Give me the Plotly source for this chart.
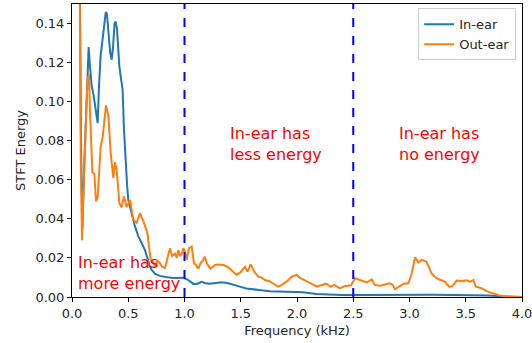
import plotly.graph_objects as go

in_x = [0.062, 0.07, 0.08, 0.092, 0.11, 0.13, 0.148, 0.16, 0.175, 0.19, 0.205, 0.218, 0.228, 0.24,
        0.255, 0.27, 0.285, 0.30, 0.31, 0.325, 0.34, 0.353, 0.365, 0.378, 0.388, 0.40, 0.41, 0.421,
        0.435, 0.45, 0.462, 0.475, 0.49, 0.50, 0.52, 0.545, 0.56, 0.59, 0.62, 0.649, 0.67, 0.69,
        0.708, 0.74, 0.78, 0.81, 0.85, 0.90, 0.95, 0.99, 1.03, 1.05, 1.08, 1.11, 1.15, 1.18, 1.22,
        1.28, 1.33, 1.38, 1.43, 1.5, 1.55, 1.62, 1.7, 1.76, 1.85, 1.95, 2.05, 2.175, 2.3, 2.4, 2.6,
        2.8, 3.0, 3.2, 3.4, 3.6, 3.7, 3.8, 3.9, 4.0]
in_y = [0.40, 0.16, 0.08, 0.035, 0.07, 0.105, 0.128, 0.118, 0.108, 0.104, 0.097, 0.091, 0.089, 0.108,
        0.124, 0.131, 0.138, 0.1458, 0.145, 0.133, 0.125, 0.1215, 0.128, 0.140, 0.141, 0.137, 0.125, 0.118,
        0.112, 0.106, 0.0856, 0.070, 0.057, 0.0497, 0.045, 0.038, 0.036, 0.031, 0.027, 0.024, 0.020, 0.016,
        0.0138, 0.0118, 0.0108, 0.0104, 0.0101, 0.0097, 0.0098, 0.0099, 0.0088, 0.0079, 0.0067, 0.0067,
        0.0078, 0.0072, 0.0068, 0.0072, 0.0075, 0.0072, 0.0062, 0.0052, 0.0044, 0.0038, 0.0033, 0.0030,
        0.0028, 0.0026, 0.0024, 0.0015, 0.0012, 0.0010, 0.0010, 0.0011, 0.0012, 0.0011, 0.0010, 0.0009,
        0.0008, 0.0004, 0.0001, 0.0]

out_x = [0.062, 0.068, 0.078, 0.089, 0.10, 0.115, 0.13, 0.14, 0.151, 0.16, 0.172, 0.181, 0.199, 0.213,
         0.228, 0.242, 0.255, 0.273, 0.29, 0.302, 0.323, 0.344, 0.367, 0.382, 0.397, 0.421, 0.44, 0.462,
         0.486, 0.516, 0.545, 0.575, 0.604, 0.634, 0.67, 0.699, 0.738, 0.76, 0.782, 0.80, 0.827, 0.85,
         0.871, 0.89, 0.916, 0.93, 0.945, 0.96, 0.975, 0.99, 1.005, 1.02, 1.04, 1.064, 1.084, 1.10,
         1.123, 1.14, 1.167, 1.18, 1.20, 1.23, 1.271, 1.30, 1.345, 1.38, 1.404, 1.44, 1.464, 1.50,
         1.538, 1.56, 1.588, 1.62, 1.656, 1.69, 1.715, 1.75, 1.79, 1.833, 1.87, 1.91, 1.953, 1.997,
         2.03, 2.07, 2.10, 2.14, 2.175, 2.22, 2.26, 2.3, 2.33, 2.382, 2.42, 2.45, 2.48, 2.516, 2.55,
         2.58, 2.62, 2.664, 2.69, 2.74, 2.79, 2.82, 2.85, 2.871, 2.91, 2.95, 2.99, 3.02, 3.049, 3.08,
         3.108, 3.15, 3.197, 3.24, 3.27, 3.316, 3.35, 3.38, 3.42, 3.47, 3.51, 3.54, 3.567, 3.59, 3.64,
         3.686, 3.74, 3.8, 3.86, 3.95, 4.0]
out_y = [0.40, 0.16, 0.07, 0.029, 0.05, 0.08, 0.10, 0.112, 0.114, 0.095, 0.075, 0.064, 0.063, 0.049,
         0.051, 0.068, 0.077, 0.082, 0.093, 0.098, 0.093, 0.0737, 0.061, 0.069, 0.065, 0.048, 0.046, 0.0514,
         0.046, 0.0497, 0.0395, 0.038, 0.0429, 0.039, 0.0327, 0.019, 0.0159, 0.0185, 0.0173, 0.0155, 0.0149, 0.020,
         0.025, 0.021, 0.0222, 0.020, 0.024, 0.021, 0.022, 0.025, 0.023, 0.019, 0.025, 0.0258, 0.0173, 0.0165,
         0.0145, 0.017, 0.019, 0.0207, 0.017, 0.0145, 0.0164, 0.0166, 0.0164, 0.0155, 0.0145, 0.0125, 0.0113, 0.0128,
         0.0155, 0.013, 0.0167, 0.013, 0.0104, 0.0098, 0.0087, 0.0082, 0.007, 0.0053, 0.0065, 0.008, 0.0104, 0.0113,
         0.0096, 0.0085, 0.0079, 0.0065, 0.0053, 0.006, 0.0068, 0.0052, 0.0062, 0.0044, 0.0055, 0.0058, 0.006, 0.0096, 0.009,
         0.0085, 0.0075, 0.009, 0.0062, 0.0058, 0.0068, 0.007, 0.0062, 0.004, 0.0055, 0.0068, 0.007, 0.012, 0.0203, 0.0176,
         0.019, 0.0181, 0.012, 0.0096, 0.0088, 0.0079, 0.0053, 0.0055, 0.0084, 0.0082, 0.0085, 0.0078, 0.0087, 0.0053, 0.0045,
         0.003, 0.0019, 0.0008, 0.0002, 0.0, 0.0]

boundaries = [1.0, 2.5]
x_ticks = [0, 0.5, 1.0, 1.5, 2.0, 2.5, 3.0, 3.5, 4.0]
x_tick_labels = ["0.0", "0.5", "1.0", "1.5", "2.0", "2.5", "3.0", "3.5", "4.0"]
y_ticks = [0, 0.02, 0.04, 0.06, 0.08, 0.10, 0.12, 0.14]
y_tick_labels = ["0.00", "0.02", "0.04", "0.06", "0.08", "0.10", "0.12", "0.14"]

FONT = "DejaVu Sans"
TXT = "#262626"

fig = go.Figure()
fig.add_trace(go.Scatter(x=in_x, y=in_y, mode="lines", name="In-ear",
                         line=dict(color="#1f77b4", width=2)))
fig.add_trace(go.Scatter(x=out_x, y=out_y, mode="lines", name="Out-ear",
                         line=dict(color="#ff7f0e", width=2)))

for b in boundaries:
    fig.add_vline(x=b, line=dict(color="blue", width=2, dash="dash"))

ann_font = dict(family=FONT, size=16, color="red")
fig.add_annotation(x=1.39, y=0.0895, xref="x", yref="y", text="In-ear has<br>less energy",
                   showarrow=False, xanchor="left", yanchor="top", align="left", font=ann_font)
fig.add_annotation(x=2.89, y=0.0895, xref="x", yref="y", text="In-ear has<br>no energy",
                   showarrow=False, xanchor="left", yanchor="top", align="left", font=ann_font)
fig.add_annotation(x=0.036, y=0.0235, xref="x", yref="y", text="In-ear has<br>more energy",
                   showarrow=False, xanchor="left", yanchor="top", align="left", font=ann_font)

axis_common = dict(showline=True, linecolor="black", linewidth=1, mirror=True, ticks="outside",
                   ticklen=4, tickcolor="black", showgrid=False, zeroline=False,
                   ticklabeloverflow="allow",
                   tickfont=dict(family=FONT, size=13, color=TXT))
fig.update_xaxes(range=[0, 4.0], tickvals=x_ticks, ticktext=x_tick_labels,
                 title=dict(text="Frequency (kHz)", font=dict(family=FONT, size=13, color=TXT), standoff=6),
                 **axis_common)
fig.update_yaxes(range=[0, 0.15], tickvals=y_ticks, ticktext=y_tick_labels,
                 title=dict(text="STFT Energy", font=dict(family=FONT, size=13, color=TXT), standoff=6),
                 **axis_common)

fig.update_layout(
    width=532, height=343,
    margin=dict(l=72, r=10, t=4, b=46, autoexpand=False),
    plot_bgcolor="white", paper_bgcolor="white",
    font=dict(family=FONT),
    legend=dict(x=0.987, y=0.985, xanchor="right", yanchor="top",
                bordercolor="#cccccc", borderwidth=1, bgcolor="rgba(255,255,255,0.8)",
                font=dict(family=FONT, size=13, color=TXT), itemwidth=30, tracegroupgap=2),
    showlegend=True,
)

fig.write_html("out.html", config={"displayModeBar": False},
               post_script="document.body.style.margin='0';document.body.style.padding='0';")
